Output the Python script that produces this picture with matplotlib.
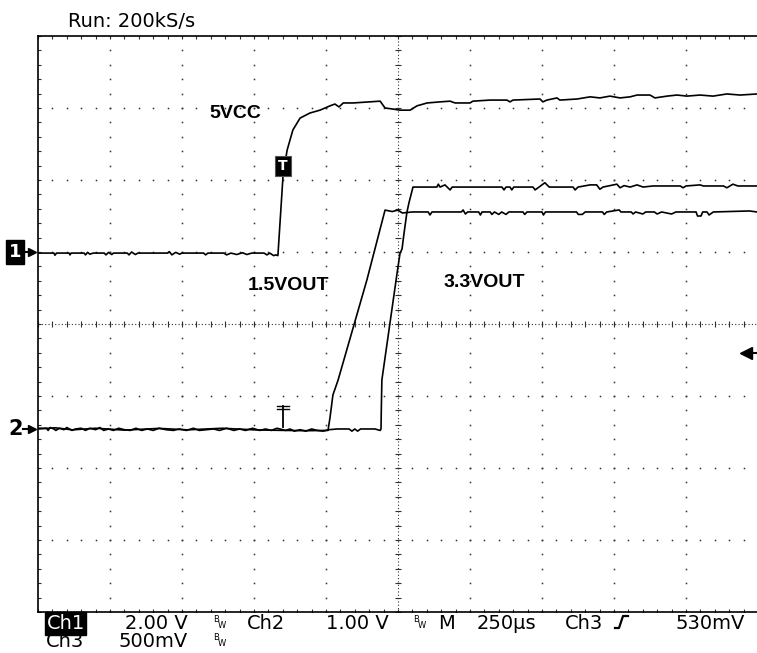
import numpy as np
import matplotlib.pyplot as plt
from matplotlib.lines import Line2D

plt.rcParams['font.family'] = ['DejaVu Sans']

# 通道设置: (V/div, 地线位置 div)
CH1_SCALE, CH1_POS = 2.0, 1.0
CH2_SCALE, CH2_POS = 1.0, -1.458
CH3_SCALE, CH3_POS = 0.5, -1.458
TIME_DIV = 250          # µs/div
TRIG_T = 851            # 触发时刻 µs
TRIG_LEVEL = 0.53       # Ch3 触发电平 V

# Ch1 5VCC
ch1_t = [0, 55, 59, 64, 108, 111, 115, 160, 165, 172, 180, 192, 230, 236, 245, 256, 262,
         310, 316, 325, 338, 347, 450, 456, 465, 478, 492, 500, 575, 582, 590, 645, 655,
         670, 690, 710, 725, 742, 785, 795, 805, 818, 826, 833,
         851, 865, 885, 910, 944, 979, 1014, 1031, 1045, 1060, 1094, 1188, 1205, 1233,
         1257, 1292, 1316, 1351, 1396, 1431, 1448, 1500, 1510, 1569, 1628, 1639, 1649,
         1743, 1753, 1767, 1802, 1812, 1872, 1917, 1951, 1986, 2021, 2056, 2080, 2125,
         2142, 2184, 2219, 2253, 2299, 2344, 2392, 2438, 2497]
ch1_v = [-0.03, -0.03, -0.09, -0.03, -0.03, -0.08, -0.03, -0.03, -0.08, -0.01, -0.06, -0.03,
         -0.03, -0.08, -0.01, -0.07, -0.03, -0.03, -0.08, 0.0, -0.07, -0.03, -0.03, 0.01,
         -0.08, -0.01, -0.06, -0.03, -0.03, -0.08, -0.03, -0.03, -0.08, -0.03, -0.07,
         -0.02, -0.07, -0.03, -0.03, -0.08, -0.03, -0.10, -0.08, -0.10,
         2.14, 2.83, 3.39, 3.72, 3.86, 3.94, 4.06, 4.11, 4.03, 4.14, 4.14, 4.19, 4.0, 3.97,
         3.94, 3.94, 4.06, 4.14, 4.17, 4.19, 4.14, 4.14, 4.19, 4.22, 4.22, 4.17, 4.22,
         4.25, 4.17, 4.22, 4.28, 4.22, 4.25, 4.31, 4.28, 4.33, 4.28, 4.31, 4.36, 4.36,
         4.28, 4.33, 4.36, 4.33, 4.36, 4.33, 4.39, 4.36, 4.39]

# Ch2 3.3VOUT
ch2_t = [0, 30, 35, 42, 55, 62, 75, 90, 100, 118, 130, 150, 165, 180, 200, 215, 228, 245,
         262, 280, 300, 320, 340, 360, 380, 400, 420, 445, 470, 490, 515, 540, 560, 585,
         610, 630, 655, 680, 700, 720, 745, 770, 790, 810, 830, 860, 875, 890, 910, 930,
         950, 970, 990, 1010, 1040, 1080, 1090, 1100, 1110, 1120, 1140, 1170, 1188, 1191,
         1192, 1194, 1247, 1257, 1264, 1271, 1281, 1288, 1302,
         1316, 1385, 1390, 1396, 1413, 1431, 1438, 1611, 1618, 1625, 1639, 1645, 1652,
         1719, 1726, 1743, 1760, 1775, 1858, 1865, 1875, 1917, 1940, 1951, 1962, 2010,
         2021, 2035, 2056, 2080, 2101, 2135, 2230, 2240, 2250, 2299, 2310, 2380, 2392,
         2413, 2430, 2497]
ch2_v = [0.01, 0.01, -0.02, 0.02, 0.0, -0.02, 0.01, -0.01, 0.02, -0.02, 0.0, 0.01, -0.02,
         0.01, -0.01, 0.02, -0.02, 0.0, -0.02, 0.01, -0.01, -0.02, 0.01, -0.02, 0.0, -0.02,
         0.01, -0.01, -0.02, 0.0, -0.02, 0.01, -0.02, -0.01, 0.0, -0.02, 0.01, -0.02, 0.0,
         -0.02, 0.01, -0.02, 0.0, -0.02, 0.01, -0.02, 0.0, -0.03, -0.01, -0.03, 0.0, -0.02,
         -0.03, -0.01, 0.0, 0.0, -0.03, 0.0, -0.03, 0.0, 0.0, 0.0, -0.02, 0.0,
         0.26, 0.68, 2.17, 2.44, 2.50, 2.72, 3.01, 3.14, 3.36,
         3.36, 3.36, 3.40, 3.36, 3.39, 3.32, 3.36, 3.36, 3.32, 3.36, 3.36, 3.32, 3.36,
         3.36, 3.32, 3.37, 3.42, 3.36, 3.36, 3.32, 3.36, 3.39, 3.39, 3.33, 3.36, 3.40,
         3.35, 3.38, 3.36, 3.39, 3.36, 3.375, 3.375, 3.35, 3.375, 3.39, 3.375, 3.375, 3.35,
         3.40, 3.375, 3.375]

# Ch3 1.5VOUT
ch3_t = [0, 60, 120, 200, 300, 420, 520, 640, 760, 860, 930, 1007, 1014, 1024, 1042, 1142,
         1205, 1230, 1250, 1265, 1300, 1355, 1361, 1368, 1470, 1476, 1484, 1492, 1530,
         1536, 1542, 1570, 1576, 1585, 1600, 1610, 1625, 1635, 1684, 1690, 1698, 1750,
         1755, 1762, 1870, 1876, 1890, 1900, 1960, 1966, 1975, 2018, 2024, 2060, 2066,
         2075, 2100, 2110, 2140, 2150, 2165, 2200, 2215, 2285, 2290, 2302, 2308, 2323,
         2330, 2345, 2470, 2497]
ch3_v = [0.0, 0.008, -0.006, 0.005, -0.008, 0.004, -0.006, 0.005, -0.007, -0.01, -0.012,
         -0.01, 0.08, 0.236, 0.34, 1.035,
         1.52, 1.51, 1.52, 1.50, 1.507, 1.507, 1.486, 1.507, 1.507, 1.521, 1.493, 1.507,
         1.507, 1.486, 1.507, 1.507, 1.49, 1.507, 1.49, 1.507, 1.49, 1.507, 1.507, 1.49,
         1.507, 1.507, 1.486, 1.507, 1.507, 1.49, 1.49, 1.507, 1.507, 1.49, 1.507, 1.521,
         1.507, 1.507, 1.493, 1.507, 1.493, 1.507, 1.507, 1.493, 1.507, 1.493, 1.507,
         1.507, 1.479, 1.479, 1.507, 1.507, 1.486, 1.507, 1.514, 1.507]

W, H = 757, 653


def fx(x):
    return x / W


def fy(y):
    return 1 - y / H


def to_div(v, scale, pos):
    return np.asarray(v) / scale + pos


fig = plt.figure(figsize=(W / 100, H / 100), dpi=100)
ax = fig.add_axes([fx(38), fy(612), 720 / W, 576 / H])
ax.set_xlim(0, 10 * TIME_DIV)
ax.set_ylim(-4, 4)
ax.set_xticks([])
ax.set_yticks([])
for s in ['left', 'top', 'bottom']:
    ax.spines[s].set_linewidth(1.2)
ax.spines['right'].set_visible(False)

# 网格
dot = '#303030'
minor_t = np.arange(0, 10 * TIME_DIV + 1, TIME_DIV / 5)
minor_y = np.arange(-4, 4.01, 0.2)
for k in range(1, 10):
    if k == 5:
        continue
    ax.plot(np.full(len(minor_y), k * TIME_DIV), minor_y, ls='none', marker='s', ms=1.1,
            mew=0, color=dot)
for j in range(-3, 4):
    if j == 0:
        continue
    ax.plot(minor_t, np.full(len(minor_t), j), ls='none', marker='s', ms=1.1, mew=0, color=dot)
# 中心线
ax.axvline(5 * TIME_DIV, ls=(0, (1, 2)), lw=0.8, color=dot)
ax.axhline(0, ls=(0, (1, 2)), lw=0.8, color=dot)
ax.plot(np.full(len(minor_y), 5 * TIME_DIV), minor_y, ls='none', marker='_', ms=5, mew=0.8, color=dot)
ax.plot(minor_t, np.zeros(len(minor_t)), ls='none', marker='|', ms=5, mew=0.8, color=dot)
# 边框刻度
ax.plot(minor_t, np.full(len(minor_t), 4), ls='none', marker='|', ms=5, mew=0.8, color=dot)
ax.plot(minor_t, np.full(len(minor_t), -4), ls='none', marker='|', ms=5, mew=0.8, color=dot)
ax.plot(np.zeros(len(minor_y)), minor_y, ls='none', marker='_', ms=5, mew=0.8, color=dot)

# 波形
ax.plot(ch1_t, to_div(ch1_v, CH1_SCALE, CH1_POS), color='black', lw=1.2)
ax.plot(ch3_t, to_div(ch3_v, CH3_SCALE, CH3_POS), color='black', lw=1.2)
ax.plot(ch2_t, to_div(ch2_v, CH2_SCALE, CH2_POS), color='black', lw=1.2)

# 标注
lab = dict(fontsize=14, fontweight='bold', family=['Liberation Sans', 'DejaVu Sans'],
           ha='center', va='center')
ax.text(684, 2.93, '5VCC', **lab)
ax.text(871, 0.54, '1.5VOUT', **lab)
ax.text(1549, 0.57, '3.3VOUT', **lab)

# 触发标记
ax.text(TRIG_T, 2.19, 'T', color='white', fontsize=10, fontweight='bold', ha='center',
        va='center', bbox=dict(boxstyle='square,pad=0.22', fc='black', ec='#555555', lw=0.8))
ax.plot([TRIG_T, TRIG_T], [-1.43, -1.14], color='black', lw=1.3)
ax.plot([TRIG_T - 22, TRIG_T + 22], [-1.14, -1.14], color='black', lw=1.0)
ax.plot([TRIG_T - 22, TRIG_T + 22], [-1.185, -1.185], color='black', lw=1.0)
trig_div = TRIG_LEVEL / CH3_SCALE + CH3_POS
ax.plot([2465, 2500], [trig_div, trig_div], color='black', lw=1.5, clip_on=False)
ax.plot([2460], [trig_div], marker='<', ms=8, color='black', clip_on=False)

# 通道地线标记
yax = ax.get_yaxis_transform()
ax.text((15 - 38) / 720, CH1_POS, '1', transform=yax, color='white', fontsize=13,
        fontweight='bold', ha='center', va='center', clip_on=False,
        bbox=dict(boxstyle='square,pad=0.15', fc='black', ec='black'))
ax.text((16 - 38) / 720, CH2_POS, '2', transform=yax, color='black', fontsize=15,
        fontweight='bold', ha='center', va='center', clip_on=False)
for pos in [CH1_POS, CH2_POS]:
    ax.plot([(23 - 38) / 720, (31 - 38) / 720], [pos, pos], transform=yax, color='black',
            lw=1.5, clip_on=False)
    ax.plot([(32 - 38) / 720], [pos], transform=yax, marker='>', ms=6, color='black',
            clip_on=False)

# 状态栏文字
st = dict(fontsize=14, ha='center', va='baseline', color='black')
fig.text(fx(132), fy(27), 'Run: 200kS/s', **st)
fig.text(fx(65.5), fy(629), 'Ch1', color='white', fontsize=14, ha='center', va='baseline',
         bbox=dict(boxstyle='square,pad=0.08', fc='black', ec='black'))
fig.text(fx(156), fy(629), '2.00 V', **st)
fig.text(fx(266), fy(629), 'Ch2', **st)
fig.text(fx(357), fy(629), '1.00 V', **st)
fig.text(fx(446.5), fy(629), 'M', **st)
fig.text(fx(506.5), fy(629), '250µs', **st)
fig.text(fx(584.5), fy(629), 'Ch3', **st)
fig.text(fx(710.5), fy(629), '530mV', **st)
fig.text(fx(65), fy(647), 'Ch3', **st)
fig.text(fx(153.5), fy(647), '500mV', **st)
for bx, by in [(213, 622), (413, 622), (213, 640)]:
    fig.text(fx(bx), fy(by), 'B', fontsize=6, va='baseline')
    fig.text(fx(bx + 5), fy(by + 6), 'W', fontsize=6, va='baseline')
fig.add_artist(Line2D([fx(615), fx(619), fx(623), fx(628)], [fy(628), fy(628), fy(616), fy(616)],
                      color='black', lw=1.6))

fig.savefig('out.png', dpi=100)
